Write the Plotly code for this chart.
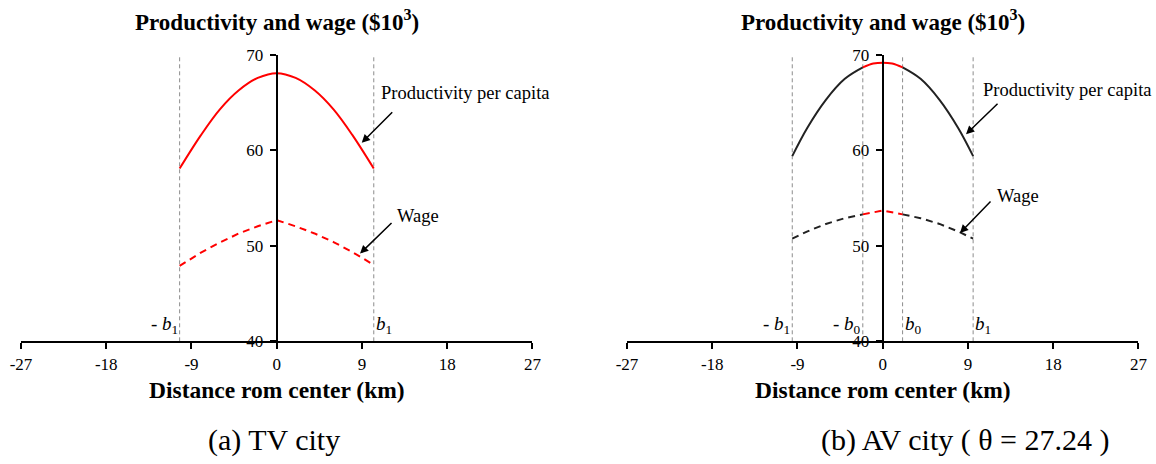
import plotly.graph_objects as go

# ---- TV city (left) ----
tv_b1 = 10.25
tv_x_prod = [-10.25, -8, -6, -4, -2, 0, 2, 4, 6, 8, 10.25]
tv_prod = [58.1, 61.6, 64.3, 66.3, 67.6, 68.1, 67.6, 66.3, 64.3, 61.6, 58.1]
tv_x_wage = [-10.25, -8, -6, -4, -2, 0, 2, 4, 6, 8, 10.25]
tv_wage = [47.9, 49.3, 50.35, 51.3, 52.05, 52.7, 52.05, 51.3, 50.4, 49.35, 48.0]

# ---- AV city (right) ----
av_b1 = 9.55
av_b0 = 2.1
av_x_prod_l = [-9.55, -8, -6, -4, -2.1]
av_prod_l = [59.4, 62.3, 65.3, 67.5, 68.7]
av_x_prod_c = [-2.1, -1, 0, 1, 2.1]
av_prod_c = [68.7, 69.1, 69.2, 69.1, 68.7]
av_x_prod_r = [2.1, 4, 6, 8, 9.55]
av_prod_r = [68.7, 67.5, 65.3, 62.3, 59.4]
av_x_wage_l = [-9.55, -8, -6, -4, -2.1]
av_wage_l = [50.75, 51.5, 52.3, 52.9, 53.3]
av_x_wage_c = [-2.1, 0, 2.1]
av_wage_c = [53.3, 53.7, 53.3]
av_x_wage_r = [2.1, 4, 6, 8, 9.55]
av_wage_r = [53.3, 52.9, 52.3, 51.5, 50.75]

x_ticks = [-27, -18, -9, 0, 9, 18, 27]
y_ticks = [40, 50, 60, 70]

W, H = 1156, 464
RED = "#ff0000"
DARK = "#222222"
GRID = "#8c8c8c"
FONT = "Liberation Serif, Times New Roman, serif"

fig = go.Figure()

def line(x, y, color, dash, xa, ya, shape="spline"):
    fig.add_trace(go.Scatter(
        x=x, y=y, mode="lines", xaxis=xa, yaxis=ya, showlegend=False,
        line=dict(color=color, width=2, dash=dash, shape=shape),
        hoverinfo="skip"))

line(tv_x_prod, tv_prod, RED, "solid", "x", "y")
line(tv_x_wage, tv_wage, RED, "7px,5px", "x", "y", shape="linear")

line(av_x_prod_l, av_prod_l, DARK, "solid", "x2", "y2")
line(av_x_prod_r, av_prod_r, DARK, "solid", "x2", "y2")
line(av_x_prod_c, av_prod_c, RED, "solid", "x2", "y2")
line(av_x_wage_l, av_wage_l, DARK, "7px,5px", "x2", "y2", shape="linear")
line(av_x_wage_r, av_wage_r, DARK, "7px,5px", "x2", "y2", shape="linear")
line(av_x_wage_c, av_wage_c, RED, "7px,5px", "x2", "y2", shape="linear")

# boundary markers
shapes = []
for xv in (-tv_b1, tv_b1):
    shapes.append(dict(type="line", xref="x", yref="y", x0=xv, x1=xv, y0=40, y1=70,
                       line=dict(color=GRID, width=1, dash="4px,3px"), layer="below"))
for xv in (-av_b1, -av_b0, av_b0, av_b1):
    shapes.append(dict(type="line", xref="x2", yref="y2", x0=xv, x1=xv, y0=40, y1=70,
                       line=dict(color=GRID, width=1, dash="4px,3px"), layer="below"))

ydom = [(H - 341.3) / H, (H - 55) / H]
xaxis_common = dict(range=[-27, 27], tickvals=x_ticks, ticktext=[str(v) for v in x_ticks],
                    showgrid=False, zeroline=False, showline=True, linecolor="black",
                    linewidth=2, ticks="outside", ticklen=6, tickwidth=2, tickcolor="black",
                    tickfont=dict(family=FONT, size=17, color="black"), fixedrange=True,
                    automargin=False)
yaxis_common = dict(range=[40, 70], tickvals=y_ticks, domain=ydom,
                    showgrid=False, zeroline=False, showline=True, linecolor="black",
                    linewidth=2, ticks="outside", ticklen=6, tickwidth=2, tickcolor="black",
                    tickfont=dict(family=FONT, size=17, color="black"), fixedrange=True,
                    anchor="free", automargin=False, ticklabelstandoff=3)

fig.update_layout(
    width=W, height=H, margin=dict(l=0, r=0, t=0, b=0, autoexpand=False),
    paper_bgcolor="white", plot_bgcolor="white",
    xaxis=dict(domain=[21 / W, 532.4 / W], anchor="y", **xaxis_common),
    xaxis2=dict(domain=[627 / W, 1138.4 / W], anchor="y2", **xaxis_common),
    yaxis=dict(position=276.7 / W, **yaxis_common),
    yaxis2=dict(position=882.7 / W, **yaxis_common),
    shapes=shapes,
)

ann = []

def txt(text, x, y, xref, yref, size, xanchor="center", yanchor="middle"):
    ann.append(dict(text=text, x=x, y=y, xref=xref, yref=yref, showarrow=False,
                    xanchor=xanchor, yanchor=yanchor,
                    font=dict(family=FONT, size=size, color="black")))

def arrow(x, y, ax, ay, xref, yref):
    ann.append(dict(text="", x=x, y=y, xref=xref, yref=yref, ax=ax, ay=ay,
                    showarrow=True, arrowhead=2, arrowsize=1.1, arrowwidth=1.5,
                    arrowcolor="black", standoff=0))

# titles, axis titles, captions
title = "<b>Productivity and wage ($10<sup>3</sup>)</b>"
txt(title, 277 / W, 1 - 20 / H, "paper", "paper", 23)
txt(title, 883 / W, 1 - 20 / H, "paper", "paper", 23)
txt("<b>Distance rom center (km)</b>", 276.5 / W, 1 - 390 / H, "paper", "paper", 23.5)
txt("<b>Distance rom center (km)</b>", 882.5 / W, 1 - 390 / H, "paper", "paper", 23.5)
txt("(a) TV city", 274 / W, 1 - 440 / H, "paper", "paper", 30)
txt("(b) AV city ( θ = 27.24 )", 965 / W, 1 - 440 / H, "paper", "paper", 30)

# curve labels with arrows
txt("Productivity per capita", 10.83, 66.04, "x", "y", 18.5, xanchor="left")
arrow(8.98, 60.8, 32, -32, "x", "y")
txt("Wage", 12.49, 53.1, "x", "y", 18.5, xanchor="left")
arrow(8.8, 49.19, 33, -32, "x", "y")
txt("Productivity per capita", 10.35, 66.33, "x2", "y2", 18.5, xanchor="left")
arrow(8.8, 61.7, 33, -32, "x2", "y2")
txt("Wage", 11.86, 55.2, "x2", "y2", 18.5, xanchor="left")
arrow(8.16, 51.35, 32, -33, "x2", "y2")

# boundary labels
b1 = "<i>b</i><sub>1</sub>"
b0 = "<i>b</i><sub>0</sub>"
txt("- " + b1, -tv_b1, 41.7, "x", "y", 19, xanchor="right")
txt(b1, tv_b1, 41.7, "x", "y", 19, xanchor="left")
txt("- " + b1, -av_b1, 41.7, "x2", "y2", 19, xanchor="right")
txt("- " + b0, -av_b0, 41.7, "x2", "y2", 19, xanchor="right")
txt(b0, av_b0, 41.7, "x2", "y2", 19, xanchor="left")
txt(b1, av_b1, 41.7, "x2", "y2", 19, xanchor="left")

fig.update_layout(annotations=ann)
fig.write_html("out.html")
